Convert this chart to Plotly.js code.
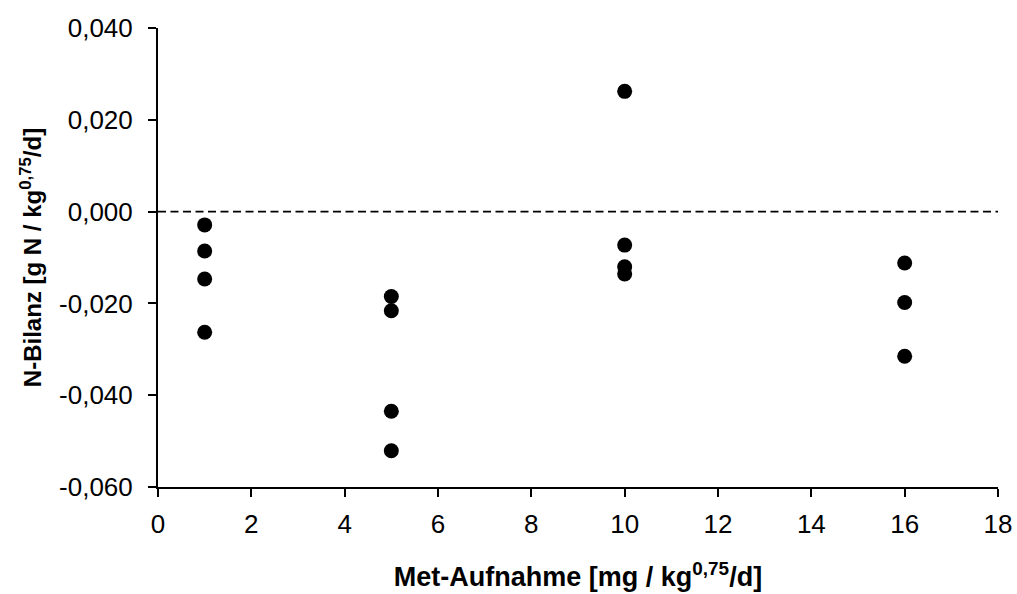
<!DOCTYPE html>
<html><head><meta charset="utf-8">
<script src="https://cdn.plot.ly/plotly-3.0.1.min.js"></script>
<style>body{margin:0;padding:0;background:#fff}</style>
</head><body>
<div id="chart" style="width:1017px;height:594px"></div>
<script>
const metIntake = [1, 1, 1, 1, 5, 5, 5, 5, 10, 10, 10, 10, 16, 16, 16];
const nBalance = [-0.0029, -0.0086, -0.0147, -0.0263,
                  -0.0185, -0.0216, -0.0435, -0.0521,
                  0.0262, -0.0073, -0.0120, -0.0136,
                  -0.0112, -0.0198, -0.0315];
const xTicks = [0, 2, 4, 6, 8, 10, 12, 14, 16, 18];
const yTicks = [-0.06, -0.04, -0.02, 0, 0.02, 0.04];
const yTickLabels = ['-0,060', '-0,040', '-0,020', '0,000', '0,020', '0,040'];
const zeroLine = [0, 0];
const zeroLineX = [0, 18];

const fam = 'Liberation Sans, Arial, sans-serif';
const tickFont = {family: fam, size: 26, color: '#000'};

Plotly.newPlot('chart', [
  {x: zeroLineX, y: zeroLine, mode: 'lines', line: {color: '#000', width: 1.6, dash: '8px,4.5px'}, hoverinfo: 'skip', showlegend: false},
  {x: metIntake, y: nBalance, mode: 'markers', marker: {color: '#000', size: 15}, showlegend: false}
], {
  width: 1017, height: 594,
  margin: {l: 158, r: 19, t: 28, b: 107},
  paper_bgcolor: '#fff', plot_bgcolor: '#fff',
  separators: ', ',
  font: tickFont,
  xaxis: {
    range: [0, 18], tickvals: xTicks, ticks: 'outside', ticklen: 8, tickwidth: 2, tickcolor: '#000',
    showline: true, linecolor: '#000', linewidth: 2, showgrid: false, zeroline: false,
    tickfont: tickFont, ticklabelstandoff: 5,
    title: {text: '<b>Met-Aufnahme [mg / kg<sup>0,75</sup>/d]</b>', font: {family: fam, size: 27, color: '#000'}, standoff: 29},
    automargin: false
  },
  yaxis: {
    range: [-0.06, 0.04], tickvals: yTicks, ticktext: yTickLabels, ticks: 'outside', ticklen: 8, tickwidth: 2, tickcolor: '#000',
    showline: true, linecolor: '#000', linewidth: 2, showgrid: false, zeroline: false,
    tickfont: tickFont, ticklabelstandoff: 10,
    title: {text: '<b>N-Bilanz [g N / kg<sup>0,75</sup>/d]</b>', font: {family: fam, size: 24, color: '#000'}, standoff: 11},
    automargin: false
  }
}, {displayModeBar: false, staticPlot: true});
</script>
</body></html>
